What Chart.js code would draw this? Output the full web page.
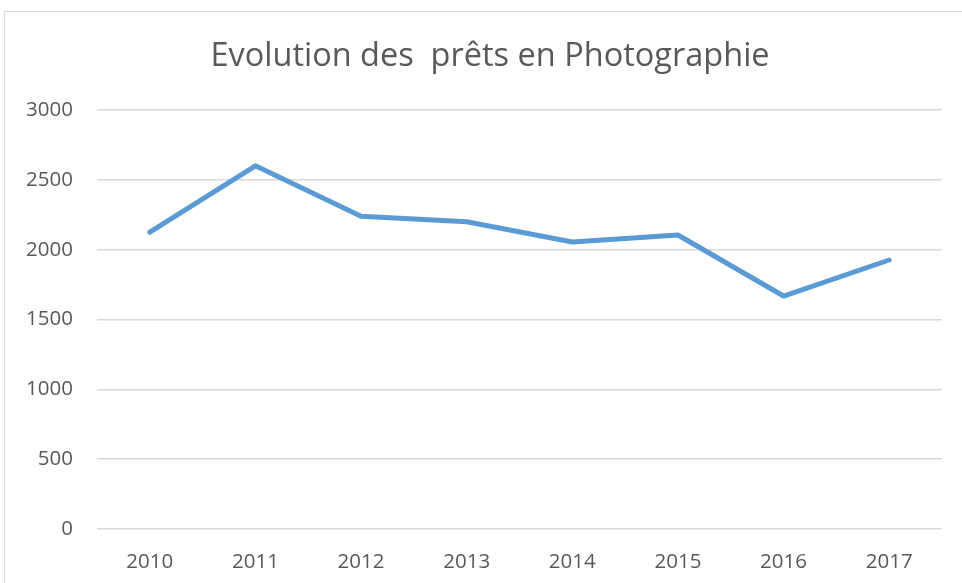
<!DOCTYPE html>
<html>
<head>
<meta charset="utf-8">
<script src="https://cdn.jsdelivr.net/npm/chart.js@4/dist/chart.umd.min.js"></script>
<style>
  html, body { margin: 0; padding: 0; background: #ffffff; }
  body { width: 962px; height: 583px; position: relative; overflow: hidden; }
  #frame { position: absolute; left: 4px; top: 11px; width: 1000px; height: 700px;
           border-left: 1px solid #d9d9d9; border-top: 1px solid #d9d9d9; }
  #c { position: absolute; left: 0; top: 0; }
  #title { position: absolute; left: 0; top: 38px; width: 980px; text-align: center;
           font-family: 'Open Sans', sans-serif; font-size: 32.5px; line-height: 1;
           color: #595959; white-space: pre; }
</style>
</head>
<body>
<div id="frame"></div>
<canvas id="c" width="962" height="583"></canvas>
<div id="title"></div>
<script>
const titleText = "Evolution des  prêts en Photographie";
const years = ["2010", "2011", "2012", "2013", "2014", "2015", "2016", "2017"];
const loans = [2126, 2600, 2240, 2200, 2055, 2105, 1668, 1926];
const yTicks = [0, 500, 1000, 1500, 2000, 2500, 3000];

const textColor = "#595959";
const gridColor = "#d9d9d9";
const fontFamily = "'Open Sans', sans-serif";

document.getElementById("title").textContent = titleText;

new Chart(document.getElementById("c"), {
  type: "line",
  data: {
    labels: years,
    datasets: [{
      label: "Prêts",
      data: loans,
      borderColor: "#5b9bd5",
      backgroundColor: "#5b9bd5",
      borderWidth: 5,
      borderCapStyle: "round",
      borderJoinStyle: "round",
      pointRadius: 0,
      tension: 0,
      fill: false
    }]
  },
  options: {
    responsive: false,
    animation: false,
    layout: { padding: { left: 0, right: 20, top: 110, bottom: 0 } },
    plugins: {
      legend: { display: false },
      tooltip: { enabled: false },
      title: { display: false }
    },
    scales: {
      x: {
        offset: true,
        grid: { display: false, drawTicks: false },
        border: { display: false },
        ticks: { color: textColor, font: { family: fontFamily, size: 20.5 }, padding: 21, maxRotation: 0 },
        afterFit: (s) => { s.height = 54; }
      },
      y: {
        min: 0,
        max: 3000,
        afterBuildTicks: (s) => { s.ticks = yTicks.map(v => ({ value: v })); },
        grid: { color: gridColor, lineWidth: 1.5, drawTicks: false },
        border: { display: false },
        ticks: { color: textColor, font: { family: fontFamily, size: 20.5 }, padding: 24,
                 callback: (v) => String(v) },
        afterFit: (s) => { s.width = 97; }
      }
    }
  }
});
</script>
</body>
</html>
